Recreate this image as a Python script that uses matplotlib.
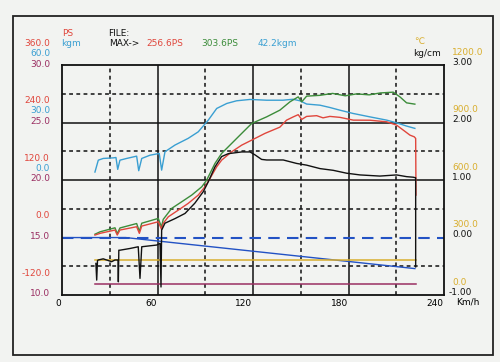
import matplotlib
matplotlib.use("Agg")
import matplotlib.pyplot as plt
from matplotlib.patches import Rectangle

# --- data (x = km/h) ---
red_kmh = [20.7, 23.9, 33.3, 34.7, 36.4, 46.9, 48.6, 50.1, 60.5, 62.5, 63.6, 66.8, 73.1, 79.3,
           85.6, 89.8, 93.0, 97.2, 100.3, 106.6, 112.9, 119.2, 127.5, 136.9, 141.1, 145.3,
           148.4, 150.6, 153.7, 160.0, 164.0, 168.3, 174.6, 183.0, 193.5, 204.0, 210.2,
           214.4, 218.6, 221.3, 222.2, 222.4]
red_ps = [5.2, 8.8, 15.7, 5.2, 15.7, 22.6, 8.8, 24.0, 33.0, 17.2, 29.7, 43.4, 57.4, 71.4,
          88.7, 106.0, 123.5, 147.8, 161.7, 179.1, 193.0, 203.5, 217.5, 230.6, 245.2, 252.0,
          256.6, 246.7, 253.0, 254.5, 250.0, 253.0, 251.0, 245.2, 245.0, 241.7, 234.8,
          224.4, 213.9, 210.4, 207.0, 88.7]

green_kmh = [20.7, 23.9, 33.3, 34.7, 36.4, 46.9, 48.6, 50.1, 60.5, 62.5, 63.6, 68.9, 75.2,
             81.5, 87.8, 90.9, 96.1, 100.3, 106.6, 112.9, 119.2, 128.6, 136.9, 143.2, 148.4,
             150.6, 153.7, 162.1, 170.0, 178.0, 185.0, 193.0, 200.0, 208.1, 212.3, 216.5, 221.7]
green_ps = [7.0, 12.0, 20.4, 8.0, 20.0, 29.3, 13.0, 30.0, 40.0, 22.0, 38.0, 60.9, 74.7,
            88.7, 106.0, 120.0, 154.8, 175.7, 196.6, 217.5, 238.3, 252.1, 266.1, 283.4, 293.8,
            283.4, 295.3, 297.0, 301.0, 296.0, 300.0, 298.0, 302.0, 303.6, 293.8, 281.3, 278.6]

blue_kmh = [20.7, 22.8, 25.9, 32.2, 33.9, 35.0, 36.4, 40.6, 46.9, 48.2, 50.1, 55.3, 61.1,
            62.6, 64.7, 71.0, 79.3, 85.6, 91.9, 97.2, 103.5, 109.7, 118.1, 128.6, 138.8,
            145.1, 149.5, 153.7, 162.1, 168.3, 174.6, 182.8, 193.5, 204.0, 210.2, 216.5, 221.7]
blue_kgm = [4.2, 10.4, 11.3, 11.6, 11.8, 5.6, 10.4, 11.3, 12.5, 4.9, 11.3, 13.0, 13.9,
            5.2, 14.8, 18.3, 21.8, 25.2, 31.3, 37.4, 40.0, 41.4, 42.1, 41.7, 41.7,
            42.2, 41.4, 39.7, 39.1, 37.9, 36.5, 34.8, 33.0, 31.3, 29.9, 28.2, 27.0]

black_kmh = [21.3, 21.8, 22.3, 22.8, 25.9, 31.2, 33.3, 35.2, 35.4, 35.7, 36.4, 42.7, 47.9,
             49.0, 50.1, 59.5, 61.6, 62.2, 62.6, 64.7, 71.0, 77.3, 83.5, 88.8, 91.9, 96.1,
             100.3, 104.5, 112.9, 118.1, 121.2, 125.4, 128.6, 139.0, 147.4, 153.7, 162.1,
             170.4, 178.8, 187.2, 199.7, 210.2, 216.5, 220.7, 222.2, 222.2]
black_kgcm = [-0.45, -0.74, -0.40, -0.39, -0.37, -0.42, -0.39, -0.39, -0.77, -0.22, -0.22,
              -0.19, -0.16, -0.71, -0.16, -0.13, -0.10, -0.86, 0.13, 0.25, 0.33, 0.42, 0.60,
              0.80, 0.97, 1.23, 1.41, 1.46, 1.49, 1.49, 1.44, 1.36, 1.35, 1.35, 1.29, 1.26,
              1.20, 1.17, 1.12, 1.09, 1.07, 1.09, 1.06, 1.05, 1.04, -0.51]

line_kmh = [0.0, 40.0, 221.7]
line_kgcm = [0.0, 0.0, -0.54]
base_kmh = [0.0, 240.0]
base_kgcm = [0.0, 0.0]

temp_kmh = [20.7, 222.4]
temp_c = [183.0, 183.0]
afr_kmh = [20.7, 222.4]
afr_val = [11.0, 11.0]

x_ticks = [0, 60, 120, 180, 240]
ps_labels = ["360.0", "240.0", "120.0", "0.0", "-120.0"]
kgm_labels = ["60.0", "30.0", "0.0"]
afr_labels = ["30.0", "25.0", "20.0", "15.0", "10.0"]
temp_labels = ["1200.0", "900.0", "600.0", "300.0", "0.0"]
kgcm_labels = ["3.00", "2.00", "1.00", "0.00", "-1.00"]
grid_levels = [3, 2, 1, 0, -1]

RED = "#e0463c"
GREEN = "#3c8c3a"
LBLUE = "#3a9fd2"
DBLUE = "#2352c4"
ORANGE = "#d9ae2e"
PURPLE = "#9a2e62"
PAPER = "#f2f3f1"

fig = plt.figure(figsize=(5, 3.62), dpi=100, facecolor=PAPER)
fig.add_artist(Rectangle((0.026, 0.019), 0.96, 0.937, transform=fig.transFigure,
                         fill=False, lw=1.3, ec="#222222"))
ax = fig.add_axes([0.124, 0.185, 0.764, 0.635], facecolor=PAPER)
ax.set_xlim(0, 240)
ax.set_ylim(-1, 3)
ax.set_xticks([])
ax.set_yticks([])
for s in ax.spines.values():
    s.set_linewidth(1.3)
    s.set_color("#111111")

# grid
for x in [60, 120, 180]:
    ax.axvline(x, color="#111111", lw=1.1)
for x in [30, 90, 150, 210]:
    ax.axvline(x, color="#111111", lw=1.1, ls=(0, (2.5, 2.2)))
for y in [2, 1]:
    ax.axhline(y, color="#111111", lw=1.1)
for y in [2.5, 1.5, 0.5, -0.5]:
    ax.axhline(y, color="#111111", lw=1.1, ls=(0, (2.5, 2.2)))

# curves
ax.plot(base_kmh, base_kgcm, color=DBLUE, lw=1.5, ls=(0, (5.5, 3.5)))
ax.plot(line_kmh, line_kgcm, color=DBLUE, lw=1.0)
ax.plot(temp_kmh, [t / 300 - 1 for t in temp_c], color=ORANGE, lw=1.1)
ax.plot(afr_kmh, [(v - 15) / 5 for v in afr_val], color=PURPLE, lw=1.1)
ax.plot(blue_kmh, [k / 30 + 1 for k in blue_kgm], color=LBLUE, lw=1.0)
ax.plot(green_kmh, [p / 120 for p in green_ps], color=GREEN, lw=1.0)
ax.plot(red_kmh, [p / 120 for p in red_ps], color=RED, lw=1.0)
ax.plot(black_kmh, black_kgcm, color="#111111", lw=1.0)

fs = 6.5
ytr = ax.get_yaxis_transform()
xtr = ax.get_xaxis_transform()
for i, g in enumerate(grid_levels):
    ax.text(-0.031, g + 0.38, ps_labels[i], color=RED, fontsize=fs, ha="right", va="center", transform=ytr)
    if i < len(kgm_labels):
        ax.text(-0.031, g + 0.21, kgm_labels[i], color=LBLUE, fontsize=fs, ha="right", va="center", transform=ytr)
    ax.text(-0.031, g + 0.02, afr_labels[i], color=PURPLE, fontsize=fs, ha="right", va="center", transform=ytr)
    ax.text(1.021, g + 0.22, temp_labels[i], color=ORANGE, fontsize=fs, ha="left", va="center", transform=ytr)
    ax.text(1.021 if g >= 0 else 1.013, g + 0.05, kgcm_labels[i], color="#111111", fontsize=fs,
            ha="left", va="center", transform=ytr)

for t in x_ticks:
    ax.text(t - 0.5, -0.036, str(t), fontsize=fs, ha="right", va="center", transform=xtr)
fig.text(0.912, 0.166, "Km/h", fontsize=fs, ha="left", va="center")

# header
fig.text(0.124, 1 - 33 / 362, "PS", color=RED, fontsize=fs, va="center")
fig.text(0.122, 1 - 44 / 362, "kgm", color=LBLUE, fontsize=fs, va="center")
fig.text(0.216, 1 - 33 / 362, "FILE:", color="#111111", fontsize=fs, va="center")
fig.text(0.218, 1 - 44 / 362, "MAX->", color="#111111", fontsize=fs, va="center")
fig.text(0.292, 1 - 44 / 362, "256.6PS", color=RED, fontsize=fs, va="center")
fig.text(0.402, 1 - 44 / 362, "303.6PS", color=GREEN, fontsize=fs, va="center")
fig.text(0.516, 1 - 44 / 362, "42.2kgm", color=LBLUE, fontsize=fs, va="center")
fig.text(0.828, 1 - 42 / 362, "℃", color=ORANGE, fontsize=fs, va="center")
fig.text(0.826, 1 - 53 / 362, "kg/cm", color="#111111", fontsize=fs, va="center")

fig.savefig("out.png", dpi=100, facecolor=PAPER)
